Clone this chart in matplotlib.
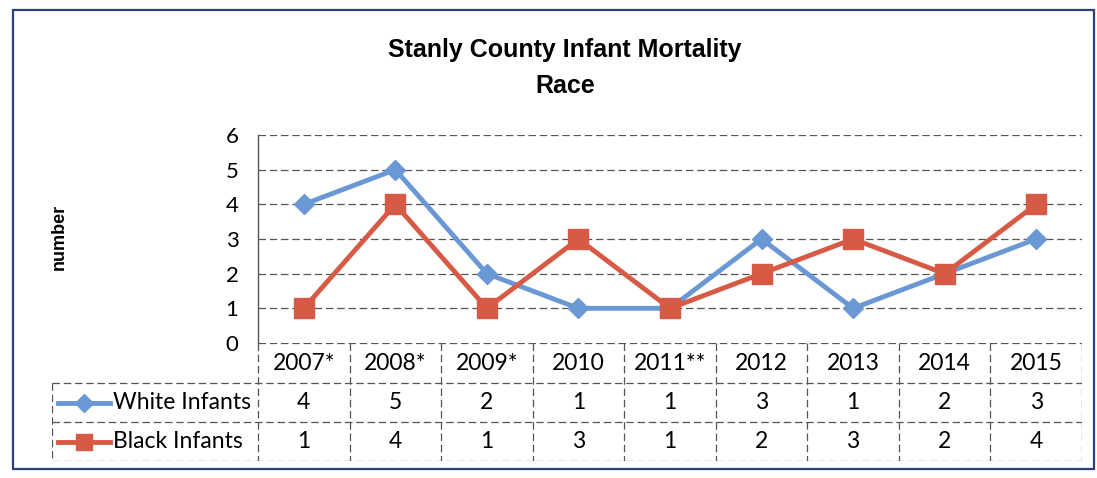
import matplotlib.pyplot as plt
from matplotlib.lines import Line2D
from matplotlib.patches import Rectangle

# data
years = ["2007*", "2008*", "2009*", "2010", "2011**", "2012", "2013", "2014", "2015"]
white = [4, 5, 2, 1, 1, 3, 1, 2, 3]
black = [1, 4, 1, 3, 1, 2, 3, 2, 4]
series_names = ["White Infants", "Black Infants"]

BLUE = "#6a98d4"
RED = "#d65a45"
GRID = "#555555"
W, H = 1097, 478


def fx(px):
    return px / W


def fy(py):
    return 1 - py / H


tick_font = ["Lato", "DejaVu Sans"]
title_font = ["Liberation Sans Narrow", "Liberation Sans", "DejaVu Sans"]

fig = plt.figure(figsize=(W / 100, H / 100), dpi=100)
fig.patch.set_facecolor("white")

# outer chart border
fig.patches.append(Rectangle((fx(13), fy(469)), fx(1094) - fx(13), fy(10) - fy(469),
                             transform=fig.transFigure, fill=False,
                             edgecolor="#2b3f78", lw=1.6))

x = list(range(1, len(years) + 1))

# plot area
left, right, top, bottom = 258, 1082, 135, 343
ax = fig.add_axes([fx(left), fy(bottom), fx(right) - fx(left), fy(top) - fy(bottom)])
ax.set_xlim(0.5, len(years) + 0.5)
ax.set_ylim(0, 6)
ax.set_yticks(range(0, 7))
ax.set_yticklabels([str(v) for v in range(0, 7)], fontsize=16, family=tick_font)
ax.tick_params(axis="y", length=0, pad=14)
ax.set_xticks([])
for s in ["top", "right", "bottom"]:
    ax.spines[s].set_visible(False)
ax.spines["left"].set_color(GRID)
ax.spines["left"].set_linewidth(1)
for v in range(1, 7):
    ax.axhline(v, color=GRID, lw=0.9, ls=(0, (6, 3)), zorder=1)

ax.plot(x, white, color=BLUE, lw=3.5, marker="D", markersize=10, zorder=3)
ax.plot(x, black, color=RED, lw=3.5, marker="s", markersize=14, zorder=4)

ax.set_ylabel("number", fontsize=13, fontweight="bold", family=title_font, labelpad=0)
ax.yaxis.set_label_coords((fx(68) - fx(left)) / (fx(right) - fx(left)), 0.51)

fig.text(fx(565), fy(50), "Stanly County Infant Mortality", ha="center", va="center",
         fontsize=18, fontweight="bold", family=title_font)
fig.text(fx(565), fy(86), "Race", ha="center", va="center",
         fontsize=18, fontweight="bold", family=title_font)

# data table below the plot
col_w = (right - left) / len(years)
leg_left = 52
tbl_bottom = 461
tax = fig.add_axes([fx(leg_left), fy(tbl_bottom), fx(right) - fx(leg_left), fy(bottom) - fy(tbl_bottom)])
tax.set_xlim(0.5 - (left - leg_left) / col_w, len(years) + 0.5)
row_edges = [0, 40, 79, 118]
tax.set_ylim(row_edges[-1], 0)
tax.axis("off")

lk = dict(color=GRID, lw=0.9, ls=(0, (6, 3)))
x0 = 0.5 - (left - leg_left) / col_w
# horizontal lines
tax.plot([0.5, len(years) + 0.5], [row_edges[0]] * 2, **lk)
for r in row_edges[1:]:
    tax.plot([x0, len(years) + 0.5], [r, r], **lk)
# vertical lines
for i in range(len(years) + 1):
    tax.plot([0.5 + i, 0.5 + i], [row_edges[0], row_edges[-1]], **lk)
tax.plot([x0, x0], [row_edges[1], row_edges[-1]], **lk)

for i, yr in enumerate(years):
    tax.text(x[i], (row_edges[0] + row_edges[1]) / 2, yr, ha="center", va="center",
             fontsize=16.5, family=tick_font)

rows = [(white, BLUE, "D", 9), (black, RED, "s", 12)]
for k, (vals, col, mk, ms) in enumerate(rows):
    yc = (row_edges[k + 1] + row_edges[k + 2]) / 2
    for i, v in enumerate(vals):
        tax.text(x[i], yc, str(v), ha="center", va="center", fontsize=16.5, family=tick_font)
    sx0 = x0 + 6 / col_w
    sx1 = x0 + 58 / col_w
    tax.add_line(Line2D([sx0, sx1], [yc, yc], color=col, lw=3.5))
    tax.add_line(Line2D([(sx0 + sx1) / 2], [yc], color=col, marker=mk, markersize=ms))
    tax.text(x0 + 61 / col_w, yc, series_names[k], ha="left", va="center",
             fontsize=16.5, family=tick_font)

fig.savefig("out.png", dpi=100, facecolor="white")
